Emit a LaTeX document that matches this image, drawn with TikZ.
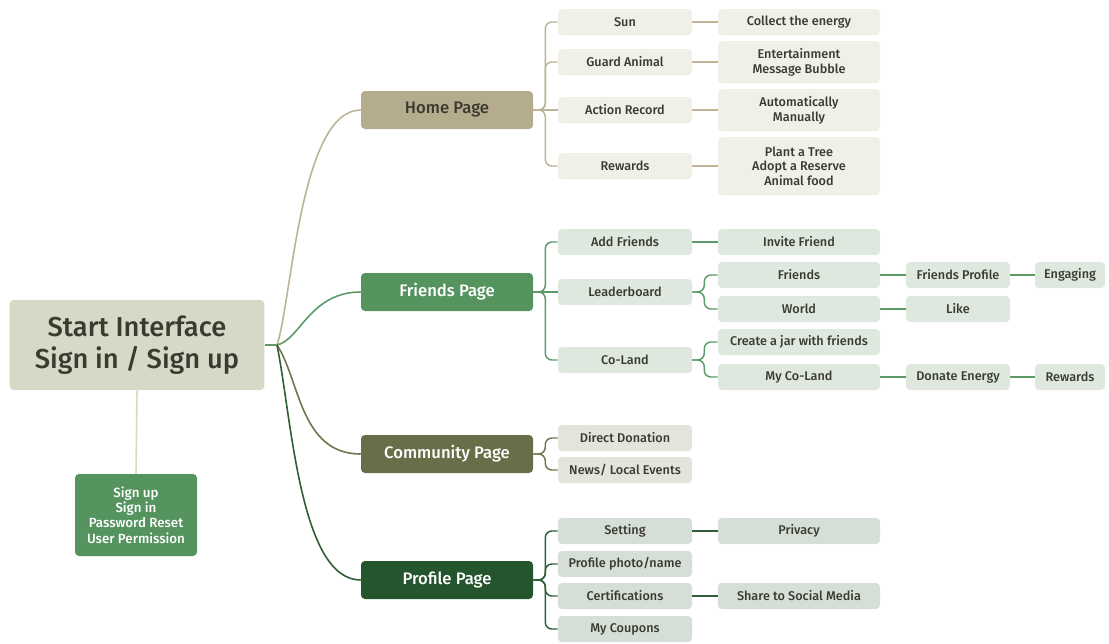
\documentclass[tikz,border=0pt]{standalone}
\usepackage{fontspec}
\setmainfont{Fira Sans}[UprightFont=* Medium, BoldFont=* SemiBold]
\usepackage{xcolor}

\definecolor{txtdark}{HTML}{3B3A30}
\definecolor{startfill}{HTML}{D6D9C5}
\definecolor{startline}{HTML}{D9D9C6}
\definecolor{homefill}{HTML}{B5AB8D}
\definecolor{homeline}{HTML}{BDB396}
\definecolor{homesub}{HTML}{F0EFE8}
\definecolor{friendfill}{HTML}{55935F}
\definecolor{friendline}{HTML}{5C9A67}
\definecolor{friendsub}{HTML}{DEE8DE}
\definecolor{commfill}{HTML}{686E48}
\definecolor{commline}{HTML}{70754F}
\definecolor{commsub}{HTML}{E3E5DD}
\definecolor{proffill}{HTML}{25552F}
\definecolor{profline}{HTML}{2F5F38}
\definecolor{profsub}{HTML}{D6DFD7}

\begin{document}
\begin{tikzpicture}[x=0.75pt,y=-0.75pt,
    box/.style={rounded corners=3pt, inner sep=0pt, align=center, text=txtdark,
      font=\fontsize{9.5}{11}\selectfont},
    lvtwo/.style={box, minimum width=100.5pt, minimum height=19.5pt},
    lvthree/.style={box, minimum width=121.5pt, minimum height=19.5pt},
    lvfour/.style={box, minimum width=78pt, minimum height=19.5pt},
    lvfive/.style={box, minimum width=52.5pt, minimum height=19.5pt},
    page/.style={box, minimum width=129pt, minimum height=28.5pt,
      font=\fontsize{12.5}{14}\selectfont},
    link/.style={line width=1.1pt, rounded corners=5pt}
  ]
      % \draw[help lines, gray!50, very thin] (0,0) grid[step=50] (1109,643);
      \useasboundingbox (0,0) rectangle (1109,643);

      % root
      \node[box, fill=startfill, minimum width=191pt, minimum height=67.5pt,
        font=\fontsize{20.5}{24}\selectfont] (start) at (137,345) {Start Interface\\Sign in / Sign up};
      \node[box, fill=friendfill, text=white, minimum width=91.5pt, minimum height=61.5pt,
        font=\fontsize{10}{11.5}\selectfont] (login) at (136,515) {Sign up\\Sign in\\Password Reset\\User Permission};
      \draw[startline, line width=1.2pt] (start.south) -- (login.north);

      % pages
      \node[page, fill=homefill] (home) at (447,110) {Home Page};
      \node[page, fill=friendfill, text=white] (friends) at (447,292) {Friends Page};
      \node[page, fill=commfill, text=white] (community) at (447,454) {Community Page};
      \node[page, fill=proffill, text=white] (profile) at (447,580) {Profile Page};

      \coordinate (hub) at (277,345);
      \draw[friendline, line width=1.2pt] (start.east) -- (hub);
      \draw[homeline, line width=1.2pt] (hub) .. controls (292,300) and (300,110) .. (home.west);
      \draw[friendline, line width=1.2pt] (hub) .. controls (300,340) and (310,292) .. (friends.west);
      \draw[commline, line width=1.2pt] (hub) .. controls (300,380) and (300,454) .. (community.west);
      \draw[profline, line width=1.2pt] (hub) .. controls (292,420) and (300,580) .. (profile.west);

      % home page
      \node[lvtwo, fill=homesub] (sun) at (625,22) {Sun};
      \node[lvtwo, fill=homesub] (guard) at (625,62) {Guard Animal};
      \node[lvtwo, fill=homesub] (action) at (625,110) {Action Record};
      \node[lvtwo, fill=homesub] (rewardsA) at (625,166) {Rewards};
      \node[lvthree, fill=homesub] (energy) at (799,22) {Collect the energy};
      \node[lvthree, fill=homesub, minimum height=31.5pt] (bubble) at (799,62) {Entertainment\\Message Bubble};
      \node[lvthree, fill=homesub, minimum height=31.5pt] (manual) at (799,110) {Automatically\\Manually};
      \node[lvthree, fill=homesub, minimum height=43.5pt] (tree) at (799,166) {Plant a Tree\\Adopt a Reserve\\Animal food};

      \draw[link, homeline] (home.east) -- ++(12,0) |- (sun.west);
      \draw[link, homeline] (home.east) -- ++(12,0) |- (guard.west);
      \draw[link, homeline] (home.east) -- (action.west);
      \draw[link, homeline] (home.east) -- ++(12,0) |- (rewardsA.west);
      \draw[link, homeline] (sun) -- (energy);
      \draw[link, homeline] (guard) -- (bubble);
      \draw[link, homeline] (action) -- (manual);
      \draw[link, homeline] (rewardsA) -- (tree);

      % friends page
      \node[lvtwo, fill=friendsub] (addfr) at (625,242) {Add Friends};
      \node[lvtwo, fill=friendsub] (leader) at (625,292) {Leaderboard};
      \node[lvtwo, fill=friendsub] (coland) at (625,360) {Co-Land};
      \node[lvthree, fill=friendsub] (invite) at (799,242) {Invite Friend};
      \node[lvthree, fill=friendsub] (frnds) at (799,275) {Friends};
      \node[lvthree, fill=friendsub] (world) at (799,309) {World};
      \node[lvthree, fill=friendsub] (jar) at (799,342) {Create a jar with friends};
      \node[lvthree, fill=friendsub] (mycoland) at (799,377) {My Co-Land};
      \node[lvfour, fill=friendsub] (frprofile) at (958,275) {Friends Profile};
      \node[lvfour, fill=friendsub] (like) at (958,309) {Like};
      \node[lvfour, fill=friendsub] (donate) at (958,377) {Donate Energy};
      \node[lvfive, fill=friendsub] (engaging) at (1070,275) {Engaging};
      \node[lvfive, fill=friendsub] (rewardsB) at (1070,377) {Rewards};

      \draw[link, friendline] (friends.east) -- ++(12,0) |- (addfr.west);
      \draw[link, friendline] (friends.east) -- (leader.west);
      \draw[link, friendline] (friends.east) -- ++(12,0) |- (coland.west);
      \draw[link, friendline] (addfr) -- (invite);
      \draw[link, friendline] (leader.east) -- ++(12,0) |- (frnds.west);
      \draw[link, friendline] (leader.east) -- ++(12,0) |- (world.west);
      \draw[link, friendline] (coland.east) -- ++(12,0) |- (jar.west);
      \draw[link, friendline] (coland.east) -- ++(12,0) |- (mycoland.west);
      \draw[link, friendline] (frnds) -- (frprofile);
      \draw[link, friendline] (frprofile) -- (engaging);
      \draw[link, friendline] (world) -- (like);
      \draw[link, friendline] (mycoland) -- (donate);
      \draw[link, friendline] (donate) -- (rewardsB);

      % community page
      \node[lvtwo, fill=commsub] (direct) at (625,438) {Direct Donation};
      \node[lvtwo, fill=commsub] (news) at (625,470) {News/ Local Events};

      \draw[link, commline] (community.east) -- ++(12,0) |- (direct.west);
      \draw[link, commline] (community.east) -- ++(12,0) |- (news.west);

      % profile page
      \node[lvtwo, fill=profsub] (setting) at (625,531) {Setting};
      \node[lvtwo, fill=profsub] (photo) at (625,564) {Profile photo/name};
      \node[lvtwo, fill=profsub] (certif) at (625,596) {Certifications};
      \node[lvtwo, fill=profsub] (coupons) at (625,629) {My Coupons};
      \node[lvthree, fill=profsub] (privacy) at (799,531) {Privacy};
      \node[lvthree, fill=profsub] (share) at (799,596) {Share to Social Media};

      \draw[link, profline] (profile.east) -- ++(12,0) |- (setting.west);
      \draw[link, profline] (profile.east) -- ++(12,0) |- (photo.west);
      \draw[link, profline] (profile.east) -- ++(12,0) |- (certif.west);
      \draw[link, profline] (profile.east) -- ++(12,0) |- (coupons.west);
      \draw[link, profline] (setting) -- (privacy);
      \draw[link, profline] (certif) -- (share);
\end{tikzpicture}
\end{document}
